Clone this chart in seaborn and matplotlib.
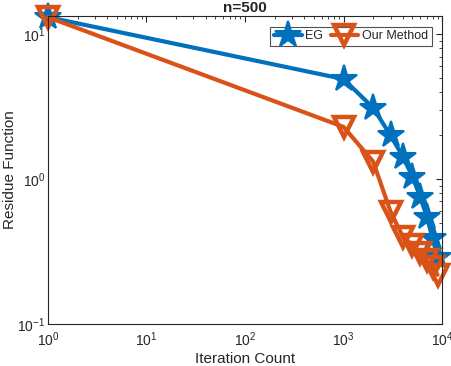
import numpy as np
import pandas as pd
import seaborn as sns
import matplotlib.pyplot as plt
from matplotlib.ticker import LogLocator, NullFormatter

# --- DATA ---
iterations = [1, 1000, 2000, 3000, 4000, 5000, 6000, 7000, 8000, 9000]
eg_residue = [13.1, 4.9, 3.1, 2.0, 1.43, 1.04, 0.755, 0.55, 0.39, 0.29]
our_residue = [13.1, 2.29, 1.32, 0.595, 0.40, 0.35, 0.31, 0.276, 0.248, 0.218]
series_names = ["EG", "Our Method"]

BLUE = "#0072BD"
ORANGE = "#D95319"

sns.set_style("white")
plt.rcParams['font.family'] = ['Liberation Sans', 'DejaVu Sans']

fig = plt.figure(figsize=(4.52, 3.66), dpi=100)
ax = fig.add_axes([0.106, 0.115, 0.872, 0.842])

df = pd.DataFrame({
    "Iteration": iterations * 2,
    "Residue": eg_residue + our_residue,
    "Method": [series_names[0]] * len(iterations) + [series_names[1]] * len(iterations),
})

sns.lineplot(data=df[df["Method"] == "EG"], x="Iteration", y="Residue", ax=ax,
             color=BLUE, linewidth=3, marker="*", markersize=20,
             markeredgecolor=BLUE, markeredgewidth=1.5, label="EG", clip_on=False)
sns.lineplot(data=df[df["Method"] == "Our Method"], x="Iteration", y="Residue", ax=ax,
             color=ORANGE, linewidth=3, marker="v", markersize=14,
             markerfacecolor="none", markeredgecolor=ORANGE, markeredgewidth=3.2,
             label="Our Method", clip_on=False)

ax.set_xscale("log")
ax.set_yscale("log")
ax.set_xlim(1, 1e4)
ax.set_ylim(0.1, 13.4)

ax.xaxis.set_minor_locator(LogLocator(base=10, subs=np.arange(2, 10), numticks=20))
ax.yaxis.set_minor_locator(LogLocator(base=10, subs=np.arange(2, 10), numticks=20))
ax.xaxis.set_minor_formatter(NullFormatter())
ax.yaxis.set_minor_formatter(NullFormatter())
ax.tick_params(which="both", direction="in", top=True, right=True, labelsize=10,
               color="#262626")
ax.tick_params(axis="y", pad=2)
ax.tick_params(axis="x", pad=5)
ax.tick_params(which="major", length=4)
ax.tick_params(which="minor", length=2)
for sp in ax.spines.values():
    sp.set_color("#262626")
    sp.set_linewidth(0.8)

ax.set_xlabel("Iteration Count", fontsize=11, labelpad=2)
ax.set_ylabel("Residue Function", fontsize=11, labelpad=0)
ax.set_title("n=500", fontsize=11, fontweight="bold", pad=3)

leg = ax.legend(loc="upper right", ncol=2, fontsize=9, frameon=True, fancybox=False,
                handlelength=2.2, columnspacing=0.6, handletextpad=0.3,
                borderpad=0.3, bbox_to_anchor=(0.99, 0.985))
leg.get_frame().set_edgecolor("#262626")
leg.get_frame().set_linewidth(0.8)

fig.savefig("out.png", dpi=100)
